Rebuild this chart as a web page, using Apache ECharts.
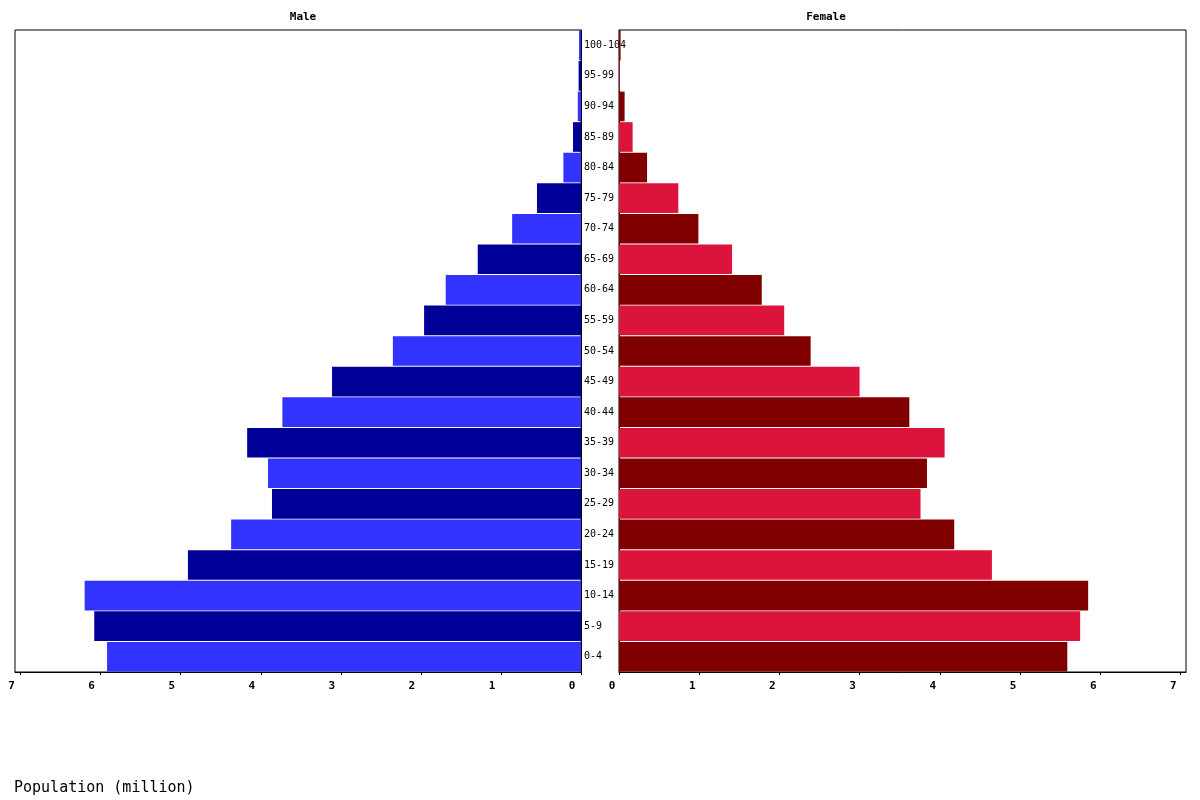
<!DOCTYPE html>
<head>
    <meta charset="utf-8">
    <title>Population pyramid</title>
    <script type="text/javascript" src="https://cdn.jsdelivr.net/npm/echarts@6.0.0/dist/echarts.min.js"></script>
    <style>
        body { margin: 0; background: #fff; }
    </style>
</head>

<body>
<div id="main" style="width:1200px;height:800px"></div>

<script type="text/javascript">

    // age groups, bottom to top
    var ageGroups = ['0-4', '5-9', '10-14', '15-19', '20-24', '25-29', '30-34', '35-39', '40-44', '45-49',
        '50-54', '55-59', '60-64', '65-69', '70-74', '75-79', '80-84', '85-89', '90-94', '95-99', '100-104'];

    // population in millions
    var male = [5.92, 6.08, 6.20, 4.91, 4.37, 3.86, 3.91, 4.17, 3.73, 3.11,
        2.35, 1.96, 1.69, 1.29, 0.86, 0.55, 0.22, 0.10, 0.04, 0.03, 0.025];
    var female = [5.59, 5.75, 5.85, 4.65, 4.18, 3.76, 3.84, 4.06, 3.62, 3.00,
        2.39, 2.06, 1.78, 1.41, 0.99, 0.74, 0.35, 0.17, 0.07, 0.01, 0.02];

    var tickValues = [0, 1, 2, 3, 4, 5, 6, 7];
    var axisMax = 7.07;

    var maleColors = ['#3333ff', '#000099'];
    var femaleColors = ['#800000', '#dc143c'];

    var mono = 'DejaVu Sans Mono';

    function valueAxis(gridIndex, inverse, padRight) {
        return {
            type: 'value',
            gridIndex: gridIndex,
            inverse: inverse,
            min: 0,
            max: axisMax,
            interval: 1,
            splitLine: { show: false },
            axisLine: { show: true, lineStyle: { color: '#000', width: 1 } },
            axisTick: { show: true, length: 3, customValues: tickValues, lineStyle: { color: '#000' } },
            axisLabel: {
                customValues: tickValues,
                margin: 9,
                padding: [0, padRight, 0, 0],
                color: '#000',
                fontFamily: mono,
                fontWeight: 'bold',
                fontSize: 11
            }
        };
    }

    var myChart = echarts.init(document.getElementById('main'), null, { renderer: 'canvas' });
    var option = {
        animation: false,
        backgroundColor: '#fff',
        grid: [
            { left: 15, right: 619, top: 30, bottom: 128, show: true, borderColor: '#000', borderWidth: 1, backgroundColor: 'transparent' },
            { left: 619, right: 14, top: 30, bottom: 128, show: true, borderColor: '#000', borderWidth: 1, backgroundColor: 'transparent' }
        ],
        graphic: [
            { type: 'text', x: 303, y: 17, style: { text: 'Male', fill: '#000', font: 'bold 11px "DejaVu Sans Mono"', textAlign: 'center', textVerticalAlign: 'middle' } },
            { type: 'text', x: 826, y: 17, style: { text: 'Female', fill: '#000', font: 'bold 11px "DejaVu Sans Mono"', textAlign: 'center', textVerticalAlign: 'middle' } },
            { type: 'text', x: 14, y: 788, style: { text: 'Population (million)', fill: '#000', font: '15px "DejaVu Sans Mono"', textAlign: 'left', textVerticalAlign: 'middle' } }
        ],
        xAxis: [
            valueAxis(0, true, 18),
            valueAxis(1, false, 14)
        ],
        yAxis: [
            {
                type: 'category',
                gridIndex: 0,
                position: 'right',
                data: ageGroups,
                axisLine: { show: true, lineStyle: { color: '#000' } },
                axisTick: { show: false },
                axisLabel: {
                    margin: 3,
                    align: 'left',
                    color: '#000',
                    fontFamily: mono,
                    fontSize: 10,
                    lineHeight: 14,
                    padding: [3, 0, 0, 0]
                }
            },
            {
                type: 'category',
                gridIndex: 1,
                position: 'left',
                data: ageGroups,
                axisLine: { show: true, lineStyle: { color: '#000' } },
                axisTick: { show: false },
                axisLabel: { show: false }
            }
        ],
        series: [
            {
                name: 'Male',
                type: 'bar',
                xAxisIndex: 0,
                yAxisIndex: 0,
                barCategoryGap: '3%',
                data: male,
                itemStyle: {
                    color: function (p) { return maleColors[p.dataIndex % 2]; }
                }
            },
            {
                name: 'Female',
                type: 'bar',
                xAxisIndex: 1,
                yAxisIndex: 1,
                barCategoryGap: '3%',
                data: female,
                itemStyle: {
                    color: function (p) { return femaleColors[p.dataIndex % 2]; }
                }
            }
        ]
    };

    myChart.setOption(option);

</script>
</body>
